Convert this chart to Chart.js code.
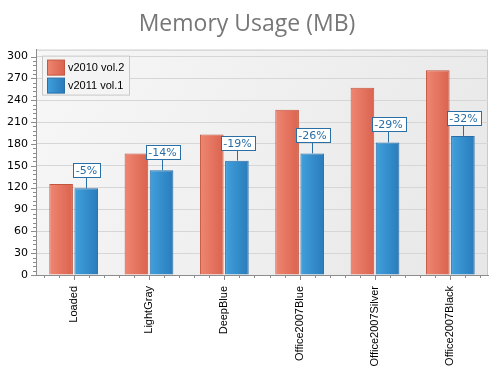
<!DOCTYPE html>
<html>
<head>
<meta charset="utf-8">
<script src="https://cdn.jsdelivr.net/npm/chart.js@4/dist/chart.umd.min.js"></script>
<style>
  html, body { margin: 0; padding: 0; background: #fff; }
  #wrap { width: 498px; height: 373px; }
</style>
</head>
<body>
<div id="wrap"><canvas id="chart" width="498" height="373"></canvas></div>
<script>
// data
const categories = ["Loaded", "LightGray", "DeepBlue", "Office2007Blue", "Office2007Silver", "Office2007Black"];
const v2010 = [125, 167, 193, 227, 257, 281];
const v2011 = [119, 144, 157, 167, 182, 191];
const diffLabels = ["-5%", "-14%", "-19%", "-26%", "-29%", "-32%"];
const yTicks = [0, 30, 60, 90, 120, 150, 180, 210, 240, 270, 300];

const numFont = "11px 'DejaVu Sans'";
const txtFont = "11px 'Liberation Sans'";

// bar colours: left / right of the horizontal shading, and the outline
const shades = [
  { left: "#ef8671", right: "#da634f", border: "#c4553f" },
  { left: "#41a0dd", right: "#2a7cbb", border: "#2a6ea6" }
];

function hGrad(ctx, x0, x1, s) {
  const g = ctx.createLinearGradient(x0, 0, x1, 0);
  g.addColorStop(0, s.left);
  g.addColorStop(1, s.right);
  return g;
}

// plot background and the light frame on top / right
const plotBack = {
  id: "plotBack",
  beforeDraw(chart) {
    const { ctx, chartArea: a } = chart;
    ctx.save();
    const g = ctx.createLinearGradient(a.left, a.top, a.right, a.bottom);
    g.addColorStop(0, "#f7f7f7");
    g.addColorStop(1, "#e7e7e7");
    ctx.fillStyle = g;
    ctx.fillRect(a.left, a.top, a.right - a.left, a.bottom - a.top);
    ctx.strokeStyle = "#c9c9c9";
    ctx.lineWidth = 1;
    ctx.beginPath();
    ctx.moveTo(a.left, a.top + 0.5);
    ctx.lineTo(a.right - 0.5, a.top + 0.5);
    ctx.lineTo(a.right - 0.5, a.bottom);
    ctx.stroke();
    ctx.restore();
  }
};

// shaded bars
const barShade = {
  id: "barShade",
  beforeDatasetsDraw(chart) {
    const ctx = chart.ctx;
    chart.data.datasets.forEach((ds, di) => {
      chart.getDatasetMeta(di).data.forEach(bar => {
        const p = bar.getProps(["x", "width"], true);
        bar.options = Object.assign({}, bar.options, {
          backgroundColor: hGrad(ctx, p.x - p.width / 2, p.x + p.width / 2, shades[di])
        });
      });
    });
  }
};

// small tick marks on both axes
const axisTicks = {
  id: "axisTicks",
  afterDraw(chart) {
    const { ctx, chartArea: a, scales } = chart;
    ctx.save();
    ctx.strokeStyle = "#8c8c8c";
    ctx.lineWidth = 1;
    ctx.beginPath();
    for (let v = 0; v <= 300; v += 6) {
      const y = Math.round(scales.y.getPixelForValue(v)) + 0.5;
      const len = v % 30 === 0 ? 5 : 3;
      ctx.moveTo(a.left - len, y);
      ctx.lineTo(a.left, y);
    }
    for (let i = 0; i < categories.length; i++) {
      [-0.4, -0.2, 0, 0.2, 0.4].forEach(o => {
        const x = Math.round(scales.x.getPixelForValue(i + o)) + 0.5;
        const len = o === 0 ? 5 : 3;
        ctx.moveTo(x, a.bottom);
        ctx.lineTo(x, a.bottom + len);
      });
    }
    ctx.stroke();
    ctx.restore();
  }
};

// "-x%" callouts above the v2011 bars
const callouts = {
  id: "callouts",
  afterDatasetsDraw(chart) {
    const ctx = chart.ctx;
    const meta = chart.getDatasetMeta(1);
    ctx.save();
    ctx.font = numFont;
    ctx.textAlign = "center";
    ctx.textBaseline = "middle";
    meta.data.forEach((bar, i) => {
      const p = bar.getProps(["x", "y"], true);
      const x = Math.round(p.x) + 0.5;
      const w = Math.round(ctx.measureText(diffLabels[i]).width) + 6;
      const h = 14;
      const bottom = Math.round(p.y) - 11;
      ctx.strokeStyle = "#2a6ea6";
      ctx.lineWidth = 1;
      ctx.beginPath();
      ctx.moveTo(x, bottom);
      ctx.lineTo(x, p.y);
      ctx.stroke();
      const bx = Math.round(x - w / 2) + 0.5;
      ctx.fillStyle = "#fff";
      ctx.fillRect(bx, bottom - h + 0.5, w, h);
      ctx.strokeRect(bx, bottom - h + 0.5, w, h);
      ctx.fillStyle = "#2a6ea6";
      ctx.fillText(diffLabels[i], x, bottom - h / 2 + 1);
    });
    ctx.restore();
  }
};

// legend box inside the plot, top left
const boxLegend = {
  id: "boxLegend",
  afterDraw(chart) {
    const { ctx, chartArea: a } = chart;
    const x0 = a.left + 6, y0 = a.top + 6;
    const w = 87, h = 39;
    ctx.save();
    ctx.fillStyle = "#f4f4f4";
    ctx.fillRect(x0 + 0.5, y0 + 0.5, w, h);
    ctx.strokeStyle = "#c9c9c9";
    ctx.lineWidth = 1;
    ctx.strokeRect(x0 + 0.5, y0 + 0.5, w, h);
    ctx.font = txtFont;
    ctx.textBaseline = "middle";
    chart.data.datasets.forEach((ds, i) => {
      const sy = y0 + 4 + i * 18;
      const sx = x0 + 5;
      ctx.fillStyle = hGrad(ctx, sx, sx + 17, shades[i]);
      ctx.fillRect(sx + 0.5, sy + 0.5, 17, 15);
      ctx.strokeStyle = shades[i].border;
      ctx.strokeRect(sx + 0.5, sy + 0.5, 17, 15);
      ctx.fillStyle = "#000";
      ctx.fillText(ds.label, sx + 21, sy + 8.5);
    });
    ctx.restore();
  }
};

Chart.defaults.font.family = "'DejaVu Sans'";
Chart.defaults.font.size = 11;
Chart.defaults.color = "#000";

const chart = new Chart(document.getElementById("chart"), {
  type: "bar",
  data: {
    labels: categories,
    datasets: [
      { label: "v2010 vol.2", data: v2010, backgroundColor: shades[0].right, borderColor: shades[0].border, borderWidth: 1 },
      { label: "v2011 vol.1", data: v2011, backgroundColor: shades[1].right, borderColor: shades[1].border, borderWidth: 1 }
    ]
  },
  options: {
    responsive: false,
    animation: false,
    devicePixelRatio: 1,
    categoryPercentage: 0.667,
    barPercentage: 0.94,
    layout: { padding: { left: 6, right: 10, top: 0, bottom: 7 } },
    plugins: {
      legend: { display: false },
      tooltip: { enabled: false },
      title: {
        display: true,
        text: "Memory Usage (MB)",
        color: "#777",
        font: { family: "'Open Sans'", size: 23, weight: "normal" },
        padding: { top: 11, bottom: 11 }
      }
    },
    scales: {
      x: {
        grid: { display: false, drawTicks: false },
        border: { color: "#8c8c8c" },
        afterFit(scale) { scale.height = 91; },
        ticks: {
          minRotation: 90, maxRotation: 90, padding: 11, autoSkip: false,
          font: { family: "'Liberation Sans'", size: 11 }
        }
      },
      y: {
        min: 0,
        max: 309.5,
        afterBuildTicks(scale) {
          scale.ticks = yTicks.map(v => ({ value: v }));
        },
        afterFit(scale) { scale.width = 30; },
        grid: { color: "#d6d6d6", drawTicks: false },
        border: { color: "#8c8c8c" },
        ticks: { padding: 8, font: { family: "'DejaVu Sans'", size: 11 } }
      }
    }
  },
  plugins: [plotBack, barShade, callouts, axisTicks, boxLegend]
});
</script>
</body>
</html>
